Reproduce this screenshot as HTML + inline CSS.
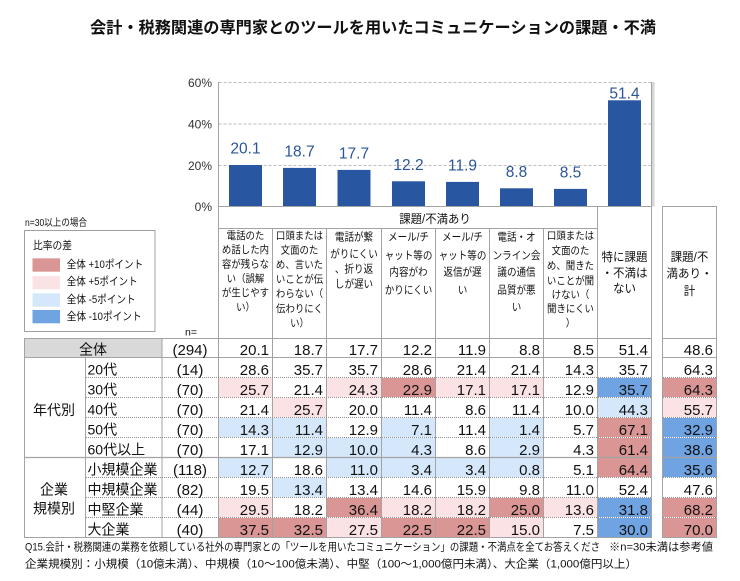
<!DOCTYPE html>
<html><head><meta charset="utf-8">
<style>
html,body{margin:0;padding:0;background:#fff;}
svg{display:block;}
.j{font-family:"Liberation Sans","Noto Sans CJK JP",sans-serif;}
.v{font-family:"Liberation Sans",sans-serif;font-size:15px;text-anchor:end;fill:#111;}
.n{font-family:"Liberation Sans",sans-serif;font-size:15px;text-anchor:middle;fill:#111;}
.h{font-family:"Liberation Sans","Noto Sans CJK JP",sans-serif;font-size:10.5px;text-anchor:middle;fill:#111;}
.h2{font-family:"Liberation Sans","Noto Sans CJK JP",sans-serif;font-size:11px;text-anchor:middle;fill:#111;}
.h3{font-family:"Liberation Sans","Noto Sans CJK JP",sans-serif;font-size:12px;text-anchor:middle;fill:#111;}
.rl{font-family:"Liberation Sans","Noto Sans CJK JP",sans-serif;font-size:14px;fill:#111;}
.bl{font-family:"Liberation Sans",sans-serif;font-size:15.5px;text-anchor:middle;fill:#2a5598;}
.ax{font-family:"Liberation Sans",sans-serif;font-size:12px;text-anchor:end;fill:#333;}
</style></head>
<body>
<svg width="740" height="581" viewBox="0 0 740 581" xmlns="http://www.w3.org/2000/svg">
<rect width="740" height="581" fill="#fff"/>

<!-- Title -->
<text class="j" x="90" y="33" font-size="16" font-weight="bold" fill="#111" textLength="566" lengthAdjust="spacingAndGlyphs">会計・税務関連の専門家とのツールを用いたコミュニケーションの課題・不満</text>

<!-- Chart gridlines -->
<line x1="218.5" y1="82.5" x2="651.5" y2="82.5" stroke="#bdbdbd" stroke-width="1" stroke-dasharray="3,2"/>
<line x1="218.5" y1="124" x2="651.5" y2="124" stroke="#bdbdbd" stroke-width="1" stroke-dasharray="3,2"/>
<line x1="218.5" y1="165.5" x2="651.5" y2="165.5" stroke="#bdbdbd" stroke-width="1" stroke-dasharray="3,2"/>
<rect x="652" y="82" width="2.5" height="124.5" fill="#d6d6d6"/>

<!-- Axis labels -->
<text class="ax" x="212" y="86.8">60%</text>
<text class="ax" x="212" y="128.3">40%</text>
<text class="ax" x="212" y="169.8">20%</text>
<text class="ax" x="212" y="210.8">0%</text>

<!-- Bars -->
<g fill="#2856a0">
<rect x="229" y="165" width="33" height="41.5"/>
<rect x="283" y="167.9" width="33" height="38.6"/>
<rect x="337.5" y="169.9" width="33" height="36.6"/>
<rect x="392" y="181.3" width="33" height="25.2"/>
<rect x="446" y="181.9" width="33" height="24.6"/>
<rect x="500" y="188.3" width="33" height="18.2"/>
<rect x="554" y="188.9" width="33" height="17.6"/>
<rect x="608" y="100.3" width="33" height="106.2"/>
</g>
<text class="bl" x="245.5" y="153.5">20.1</text>
<text class="bl" x="299.5" y="156.4">18.7</text>
<text class="bl" x="354" y="158.4">17.7</text>
<text class="bl" x="408.5" y="169.8">12.2</text>
<text class="bl" x="462.5" y="170.4">11.9</text>
<text class="bl" x="516.5" y="176.8">8.8</text>
<text class="bl" x="570.5" y="177.4">8.5</text>
<text class="bl" x="624.5" y="98.5">51.4</text>

<!-- Legend -->
<text class="j" x="25" y="226" font-size="10" fill="#111" textLength="62" lengthAdjust="spacingAndGlyphs">n=30以上の場合</text>
<rect x="24.5" y="230.5" width="130.5" height="101" fill="#fff" stroke="#a0a0a0" stroke-width="1"/>
<text class="j" x="33" y="249" font-size="11" fill="#111" textLength="39" lengthAdjust="spacingAndGlyphs">比率の差</text>
<rect x="32.5" y="258.3" width="27.5" height="13.4" fill="#d99694"/>
<rect x="32.5" y="276" width="27.5" height="13.3" fill="#fbe3e5"/>
<rect x="32.5" y="293.3" width="27.5" height="13.4" fill="#d5e8fb"/>
<rect x="32.5" y="310" width="27.5" height="13.3" fill="#6fa3e2"/>
<text class="j" x="66.7" y="268" font-size="11" fill="#111" textLength="76.5" lengthAdjust="spacingAndGlyphs">全体 +10ポイント</text>
<text class="j" x="66.7" y="285" font-size="11" fill="#111" textLength="71" lengthAdjust="spacingAndGlyphs">全体 +5ポイント</text>
<text class="j" x="66.7" y="303" font-size="11" fill="#111" textLength="69" lengthAdjust="spacingAndGlyphs">全体 -5ポイント</text>
<text class="j" x="66.7" y="320" font-size="11" fill="#111" textLength="75" lengthAdjust="spacingAndGlyphs">全体 -10ポイント</text>
<text class="j" x="191" y="335.5" font-size="10.5" fill="#111" text-anchor="middle">n=</text>

<!-- Total row gray label -->
<rect x="25" y="339" width="137" height="18.5" fill="#d9d9d9"/>

<!-- Colored cells -->
<g>
<!-- 30代 -->
<rect x="219" y="378" width="53" height="19" fill="#fbe3e5"/>
<rect x="327" y="378" width="54" height="19" fill="#fbe3e5"/>
<rect x="382" y="378" width="53" height="19" fill="#d99694"/>
<rect x="436" y="378" width="53" height="19" fill="#fbe3e5"/>
<rect x="490" y="378" width="53" height="19" fill="#fbe3e5"/>
<rect x="598" y="378" width="53" height="19" fill="#6fa3e2"/>
<rect x="663" y="378" width="53" height="19" fill="#d99694"/>
<!-- 40代 -->
<rect x="273" y="398" width="53" height="19" fill="#fbe3e5"/>
<rect x="598" y="398" width="53" height="19" fill="#d5e8fb"/>
<rect x="663" y="398" width="53" height="19" fill="#fbe3e5"/>
<!-- 50代 -->
<rect x="219" y="418" width="53" height="19" fill="#d5e8fb"/>
<rect x="273" y="418" width="53" height="19" fill="#d5e8fb"/>
<rect x="382" y="418" width="53" height="19" fill="#d5e8fb"/>
<rect x="490" y="418" width="53" height="19" fill="#d5e8fb"/>
<rect x="598" y="418" width="53" height="19" fill="#d99694"/>
<rect x="663" y="418" width="53" height="19" fill="#6fa3e2"/>
<!-- 60代以上 -->
<rect x="273" y="438" width="53" height="19" fill="#d5e8fb"/>
<rect x="327" y="438" width="54" height="19" fill="#d5e8fb"/>
<rect x="382" y="438" width="53" height="19" fill="#d5e8fb"/>
<rect x="490" y="438" width="53" height="19" fill="#d5e8fb"/>
<rect x="598" y="438" width="53" height="19" fill="#d99694"/>
<rect x="663" y="438" width="53" height="19" fill="#6fa3e2"/>
<!-- 小規模 -->
<rect x="219" y="458" width="53" height="19" fill="#d5e8fb"/>
<rect x="327" y="458" width="54" height="19" fill="#d5e8fb"/>
<rect x="382" y="458" width="53" height="19" fill="#d5e8fb"/>
<rect x="436" y="458" width="53" height="19" fill="#d5e8fb"/>
<rect x="490" y="458" width="53" height="19" fill="#d5e8fb"/>
<rect x="598" y="458" width="53" height="19" fill="#d99694"/>
<rect x="663" y="458" width="53" height="19" fill="#6fa3e2"/>
<!-- 中規模 -->
<rect x="273" y="478" width="53" height="19" fill="#d5e8fb"/>
<!-- 中堅 -->
<rect x="219" y="498" width="53" height="19" fill="#fbe3e5"/>
<rect x="327" y="498" width="54" height="19" fill="#d99694"/>
<rect x="382" y="498" width="53" height="19" fill="#fbe3e5"/>
<rect x="436" y="498" width="53" height="19" fill="#fbe3e5"/>
<rect x="490" y="498" width="53" height="19" fill="#d99694"/>
<rect x="544" y="498" width="53" height="19" fill="#fbe3e5"/>
<rect x="598" y="498" width="53" height="19" fill="#6fa3e2"/>
<rect x="663" y="498" width="53" height="19" fill="#d99694"/>
<!-- 大企業 -->
<rect x="219" y="518" width="53" height="19" fill="#d99694"/>
<rect x="273" y="518" width="53" height="19" fill="#d99694"/>
<rect x="327" y="518" width="54" height="19" fill="#fbe3e5"/>
<rect x="382" y="518" width="53" height="19" fill="#d99694"/>
<rect x="436" y="518" width="53" height="19" fill="#d99694"/>
<rect x="490" y="518" width="53" height="19" fill="#fbe3e5"/>
<rect x="598" y="518" width="53" height="19" fill="#6fa3e2"/>
<rect x="663" y="518" width="53" height="19" fill="#d99694"/>
</g>

<!-- Grid lines -->
<g stroke="#a3a3a3" stroke-width="1" fill="none">
<!-- chart frame -->
<line x1="218.5" y1="82" x2="218.5" y2="538"/>
<line x1="651.5" y1="82" x2="651.5" y2="538"/>
<line x1="218" y1="206.5" x2="652" y2="206.5"/>
<!-- header -->
<line x1="218.5" y1="228.5" x2="597.5" y2="228.5"/>
<line x1="272.5" y1="228.5" x2="272.5" y2="538"/>
<line x1="326.5" y1="228.5" x2="326.5" y2="538"/>
<line x1="381.5" y1="228.5" x2="381.5" y2="538"/>
<line x1="435.5" y1="228.5" x2="435.5" y2="538"/>
<line x1="489.5" y1="228.5" x2="489.5" y2="538"/>
<line x1="543.5" y1="228.5" x2="543.5" y2="538"/>
<line x1="597.5" y1="206.5" x2="597.5" y2="538"/>
<!-- col 9 box -->
<rect x="662.5" y="206.5" width="54" height="331"/>
<!-- left columns -->
<line x1="24.5" y1="338.5" x2="24.5" y2="538"/>
<line x1="85.5" y1="357.5" x2="85.5" y2="538"/>
<line x1="162" y1="338.5" x2="162" y2="538"/>
<!-- solid horizontals -->
<line x1="24" y1="338.5" x2="652" y2="338.5"/>
<line x1="662" y1="338.5" x2="717" y2="338.5"/>
<line x1="24" y1="357.5" x2="652" y2="357.5"/>
<line x1="662" y1="357.5" x2="717" y2="357.5"/>
<line x1="24" y1="457.5" x2="652" y2="457.5" stroke-width="1.3"/>
<line x1="662" y1="457.5" x2="717" y2="457.5" stroke-width="1.3"/>
<line x1="24" y1="537.5" x2="652" y2="537.5"/>
</g>
<g stroke="#8f8f8f" stroke-width="1" stroke-dasharray="1,1">
<line x1="86" y1="377.5" x2="651" y2="377.5"/><line x1="663" y1="377.5" x2="716" y2="377.5"/>
<line x1="86" y1="397.5" x2="651" y2="397.5"/><line x1="663" y1="397.5" x2="716" y2="397.5"/>
<line x1="86" y1="417.5" x2="651" y2="417.5"/><line x1="663" y1="417.5" x2="716" y2="417.5"/>
<line x1="86" y1="437.5" x2="651" y2="437.5"/><line x1="663" y1="437.5" x2="716" y2="437.5"/>
<line x1="86" y1="477.5" x2="651" y2="477.5"/><line x1="663" y1="477.5" x2="716" y2="477.5"/>
<line x1="86" y1="497.5" x2="651" y2="497.5"/><line x1="663" y1="497.5" x2="716" y2="497.5"/>
<line x1="86" y1="517.5" x2="651" y2="517.5"/><line x1="663" y1="517.5" x2="716" y2="517.5"/>
</g>

<!-- Header texts -->
<text class="h3" transform="translate(435,222.8) scale(0.95,1)">課題/不満あり</text>

<!-- col1 -->
<text class="h" transform="translate(245.5,238.8) scale(0.9,1)">電話のた</text>
<text class="h" transform="translate(245.5,253.1) scale(0.9,1)">め話した内</text>
<text class="h" transform="translate(245.5,267.4) scale(0.9,1)">容が残らな</text>
<text class="h" transform="translate(245.5,281.8) scale(0.9,1)">い（誤解</text>
<text class="h" transform="translate(245.5,296.1) scale(0.9,1)">が生じやす</text>
<text class="h" transform="translate(245.5,310.4) scale(0.9,1)">い）</text>
<!-- col2 -->
<text class="h" transform="translate(299.5,238.8) scale(0.9,1)">口頭または</text>
<text class="h" transform="translate(299.5,253.4) scale(0.9,1)">文面のた</text>
<text class="h" transform="translate(299.5,268) scale(0.9,1)">め、言いた</text>
<text class="h" transform="translate(299.5,282.6) scale(0.9,1)">いことが伝</text>
<text class="h" transform="translate(299.5,297.2) scale(0.9,1)">わらない（</text>
<text class="h" transform="translate(299.5,311.8) scale(0.9,1)">伝わりにく</text>
<text class="h" transform="translate(299.5,326.4) scale(0.9,1)">い）</text>
<!-- col3 -->
<text class="h2" transform="translate(354,240.7) scale(0.87,1)">電話が繋</text>
<text class="h2" transform="translate(354,257.3) scale(0.87,1)">がりにくい</text>
<text class="h2" transform="translate(354,272.3) scale(0.87,1)">、折り返</text>
<text class="h2" transform="translate(354,287.3) scale(0.87,1)">しが遅い</text>
<!-- col4 -->
<text class="h2" transform="translate(408.5,240.7) scale(0.87,1)">メール/チ</text>
<text class="h2" transform="translate(408.5,259) scale(0.87,1)">ャット等の</text>
<text class="h2" transform="translate(408.5,275.7) scale(0.87,1)">内容がわ</text>
<text class="h2" transform="translate(408.5,293.3) scale(0.87,1)">かりにくい</text>
<!-- col5 -->
<text class="h2" transform="translate(462.5,240.7) scale(0.87,1)">メール/チ</text>
<text class="h2" transform="translate(462.5,259) scale(0.87,1)">ャット等の</text>
<text class="h2" transform="translate(462.5,275.7) scale(0.87,1)">返信が遅</text>
<text class="h2" transform="translate(462.5,293.3) scale(0.87,1)">い</text>
<!-- col6 -->
<text class="h2" transform="translate(516.5,240.7) scale(0.87,1)">電話・オ</text>
<text class="h2" transform="translate(516.5,259) scale(0.87,1)">ンライン会</text>
<text class="h2" transform="translate(516.5,275.7) scale(0.87,1)">議の通信</text>
<text class="h2" transform="translate(516.5,293.3) scale(0.87,1)">品質が悪</text>
<text class="h2" transform="translate(516.5,310.7) scale(0.87,1)">い</text>
<!-- col7 -->
<text class="h" transform="translate(570.5,238.8) scale(0.9,1)">口頭または</text>
<text class="h" transform="translate(570.5,253.8) scale(0.9,1)">文面のた</text>
<text class="h" transform="translate(570.5,268.8) scale(0.9,1)">め、聞きた</text>
<text class="h" transform="translate(570.5,283.8) scale(0.9,1)">いことが聞</text>
<text class="h" transform="translate(570.5,298.1) scale(0.9,1)">けない（</text>
<text class="h" transform="translate(570.5,312.1) scale(0.9,1)">聞きにくい</text>
<text class="h" transform="translate(570.5,326.5) scale(0.9,1)">）</text>
<!-- col8 -->
<text class="h3" transform="translate(624.5,261.2) scale(0.96,1)">特に課題</text>
<text class="h3" transform="translate(624.5,277.2) scale(0.96,1)">・不満は</text>
<text class="h3" transform="translate(624.5,292.5) scale(0.96,1)">ない</text>
<!-- col9 -->
<text class="h3" transform="translate(689.5,261.2) scale(0.96,1)">課題/不</text>
<text class="h3" transform="translate(689.5,277.5) scale(0.96,1)">満あり・</text>
<text class="h3" transform="translate(689.5,295.2) scale(0.96,1)">計</text>

<!-- Row labels -->
<text class="rl" x="93" y="354.5" text-anchor="middle">全体</text>
<text class="rl" x="54" y="415" text-anchor="middle" font-size="13.5">年代別</text>
<text class="rl" x="54" y="494.5" text-anchor="middle" font-size="13.5">企業</text>
<text class="rl" x="54" y="513.5" text-anchor="middle" font-size="13.5">規模別</text>
<text class="rl" x="87.5" y="374.5">20代</text>
<text class="rl" x="87.5" y="394.5">30代</text>
<text class="rl" x="87.5" y="414.5">40代</text>
<text class="rl" x="87.5" y="434.5">50代</text>
<text class="rl" x="87.5" y="454.5">60代以上</text>
<text class="rl" x="87.5" y="474.5">小規模企業</text>
<text class="rl" x="87.5" y="494.5">中規模企業</text>
<text class="rl" x="87.5" y="514.5">中堅企業</text>
<text class="rl" x="87.5" y="534.5">大企業</text>

<!-- n values -->
<text class="n" x="190" y="355">(294)</text>
<text class="n" x="190" y="375">(14)</text>
<text class="n" x="190" y="395">(70)</text>
<text class="n" x="190" y="415">(70)</text>
<text class="n" x="190" y="435">(70)</text>
<text class="n" x="190" y="455">(70)</text>
<text class="n" x="190" y="475">(118)</text>
<text class="n" x="190" y="495">(82)</text>
<text class="n" x="190" y="515">(44)</text>
<text class="n" x="190" y="535">(40)</text>

<!-- Values -->
<g class="v">
<text class="v" x="269" y="355">20.1</text><text class="v" x="323" y="355">18.7</text><text class="v" x="378" y="355">17.7</text><text class="v" x="432" y="355">12.2</text><text class="v" x="486" y="355">11.9</text><text class="v" x="540" y="355">8.8</text><text class="v" x="594" y="355">8.5</text><text class="v" x="648" y="355">51.4</text><text class="v" x="713" y="355">48.6</text>

<text class="v" x="269" y="375">28.6</text><text class="v" x="323" y="375">35.7</text><text class="v" x="378" y="375">35.7</text><text class="v" x="432" y="375">28.6</text><text class="v" x="486" y="375">21.4</text><text class="v" x="540" y="375">21.4</text><text class="v" x="594" y="375">14.3</text><text class="v" x="648" y="375">35.7</text><text class="v" x="713" y="375">64.3</text>

<text class="v" x="269" y="395">25.7</text><text class="v" x="323" y="395">21.4</text><text class="v" x="378" y="395">24.3</text><text class="v" x="432" y="395">22.9</text><text class="v" x="486" y="395">17.1</text><text class="v" x="540" y="395">17.1</text><text class="v" x="594" y="395">12.9</text><text class="v" x="648" y="395">35.7</text><text class="v" x="713" y="395">64.3</text>

<text class="v" x="269" y="415">21.4</text><text class="v" x="323" y="415">25.7</text><text class="v" x="378" y="415">20.0</text><text class="v" x="432" y="415">11.4</text><text class="v" x="486" y="415">8.6</text><text class="v" x="540" y="415">11.4</text><text class="v" x="594" y="415">10.0</text><text class="v" x="648" y="415">44.3</text><text class="v" x="713" y="415">55.7</text>

<text class="v" x="269" y="435">14.3</text><text class="v" x="323" y="435">11.4</text><text class="v" x="378" y="435">12.9</text><text class="v" x="432" y="435">7.1</text><text class="v" x="486" y="435">11.4</text><text class="v" x="540" y="435">1.4</text><text class="v" x="594" y="435">5.7</text><text class="v" x="648" y="435">67.1</text><text class="v" x="713" y="435">32.9</text>

<text class="v" x="269" y="455">17.1</text><text class="v" x="323" y="455">12.9</text><text class="v" x="378" y="455">10.0</text><text class="v" x="432" y="455">4.3</text><text class="v" x="486" y="455">8.6</text><text class="v" x="540" y="455">2.9</text><text class="v" x="594" y="455">4.3</text><text class="v" x="648" y="455">61.4</text><text class="v" x="713" y="455">38.6</text>

<text class="v" x="269" y="475">12.7</text><text class="v" x="323" y="475">18.6</text><text class="v" x="378" y="475">11.0</text><text class="v" x="432" y="475">3.4</text><text class="v" x="486" y="475">3.4</text><text class="v" x="540" y="475">0.8</text><text class="v" x="594" y="475">5.1</text><text class="v" x="648" y="475">64.4</text><text class="v" x="713" y="475">35.6</text>

<text class="v" x="269" y="495">19.5</text><text class="v" x="323" y="495">13.4</text><text class="v" x="378" y="495">13.4</text><text class="v" x="432" y="495">14.6</text><text class="v" x="486" y="495">15.9</text><text class="v" x="540" y="495">9.8</text><text class="v" x="594" y="495">11.0</text><text class="v" x="648" y="495">52.4</text><text class="v" x="713" y="495">47.6</text>

<text class="v" x="269" y="515">29.5</text><text class="v" x="323" y="515">18.2</text><text class="v" x="378" y="515">36.4</text><text class="v" x="432" y="515">18.2</text><text class="v" x="486" y="515">18.2</text><text class="v" x="540" y="515">25.0</text><text class="v" x="594" y="515">13.6</text><text class="v" x="648" y="515">31.8</text><text class="v" x="713" y="515">68.2</text>

<text class="v" x="269" y="535">37.5</text><text class="v" x="323" y="535">32.5</text><text class="v" x="378" y="535">27.5</text><text class="v" x="432" y="535">22.5</text><text class="v" x="486" y="535">22.5</text><text class="v" x="540" y="535">15.0</text><text class="v" x="594" y="535">7.5</text><text class="v" x="648" y="535">30.0</text><text class="v" x="713" y="535">70.0</text>
</g>

<!-- Footnotes -->
<text class="j" x="25" y="550.5" font-size="11" fill="#111" textLength="575" lengthAdjust="spacingAndGlyphs">Q15.会計・税務関連の業務を依頼している社外の専門家との「ツールを用いたコミュニケーション」の課題・不満点を全てお答えくださ</text>
<text class="j" x="609" y="550.5" font-size="11" fill="#111" textLength="104" lengthAdjust="spacingAndGlyphs">※n=30未満は参考値</text>
<text class="j" x="25" y="567.5" font-size="11" fill="#111" textLength="612" lengthAdjust="spacingAndGlyphs">企業規模別：小規模（10億未満）、中規模（10～100億未満）、中堅（100～1,000億円未満）、大企業（1,000億円以上）</text>
</svg>
</body></html>
